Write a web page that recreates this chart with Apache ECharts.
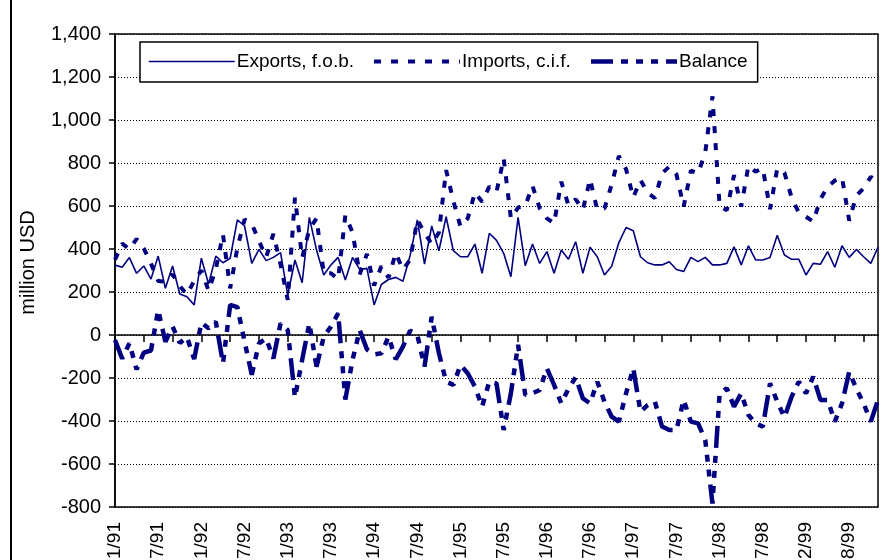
<!DOCTYPE html>
<html>
<head>
<meta charset="utf-8">
<script src="https://cdn.jsdelivr.net/npm/echarts@6/dist/echarts.min.js"></script>
<style>
  html, body { margin: 0; padding: 0; background: #fff; }
  #chart { width: 883px; height: 560px; }
</style>
</head>
<body>
<div id="chart"></div>
<script>
// Monthly trade figures, million USD (January 1999 is not reported)
const months = [
  '1/91','2/91','3/91','4/91','5/91','6/91','7/91','8/91','9/91','10/91','11/91','12/91',
  '1/92','2/92','3/92','4/92','5/92','6/92','7/92','8/92','9/92','10/92','11/92','12/92',
  '1/93','2/93','3/93','4/93','5/93','6/93','7/93','8/93','9/93','10/93','11/93','12/93',
  '1/94','2/94','3/94','4/94','5/94','6/94','7/94','8/94','9/94','10/94','11/94','12/94',
  '1/95','2/95','3/95','4/95','5/95','6/95','7/95','8/95','9/95','10/95','11/95','12/95',
  '1/96','2/96','3/96','4/96','5/96','6/96','7/96','8/96','9/96','10/96','11/96','12/96',
  '1/97','2/97','3/97','4/97','5/97','6/97','7/97','8/97','9/97','10/97','11/97','12/97',
  '1/98','2/98','3/98','4/98','5/98','6/98','7/98','8/98','9/98','10/98','11/98','12/98',
  '2/99','3/99','4/99','5/99','6/99','7/99','8/99','9/99','10/99','11/99','12/99'
];

const exportsFob = [
  325, 315, 360, 287, 321, 260, 367, 217, 321, 191, 178, 140,
  357, 237, 367, 336, 357, 535, 507, 333, 398, 346, 361, 383,
  186, 349, 243, 547, 395, 279, 326, 361, 256, 361, 305, 310,
  140, 235, 258, 268, 250, 370, 535, 330, 507, 392, 550, 392,
  364, 364, 423, 287, 473, 440, 380, 271, 547, 322, 423, 333,
  388, 287, 395, 352, 434, 287, 408, 364, 279, 320, 430, 500,
  485, 364, 336, 326, 326, 341, 305, 295, 361, 341, 361, 326,
  326, 333, 410, 326, 415, 349, 349, 360, 464, 372, 352, 352,
  279, 333, 329, 388, 315, 415, 361, 398, 364, 333, 408
];

const importsCif = [
  350, 425, 399, 447, 403, 332, 251, 248, 282, 228, 188, 252,
  300, 206, 305, 468, 217, 405, 537, 518, 437, 362, 470, 329,
  163, 639, 359, 493, 542, 287, 287, 260, 556, 477, 282, 377,
  230, 320, 266, 381, 304, 350, 535, 477, 422, 477, 767, 624,
  504, 542, 663, 620, 690, 665, 822, 542, 593, 601, 694, 589,
  543, 519, 713, 602, 631, 582, 726, 581, 589, 700, 833, 771,
  640, 721, 662, 636, 752, 783, 747, 597, 764, 752, 849, 1110,
  597, 581, 743, 597, 787, 760, 775, 585, 774, 755, 639, 569,
  550, 527, 631, 690, 718, 733, 532, 648, 682, 736, 710
];

const balance = [
  -23, -110, -39, -160, -82, -72, 116, -31, 39, -37, -10, -112,
  57, 31, 62, -132, 140, 130, -30, -185, -39, -16, -109, 54,
  23, -290, -116, 54, -147, -8, 39, 101, -300, -116, 23, -67,
  -90, -85, -8, -113, -54, 20, 0, -147, 85, -85, -217, -232,
  -140, -178, -240, -333, -217, -225, -442, -271, -46, -279, -271, -256,
  -155, -232, -318, -250, -197, -295, -318, -217, -310, -380, -403, -271,
  -155, -357, -326, -310, -426, -442, -442, -302, -403, -411, -488, -784,
  -271, -248, -333, -271, -372, -411, -426, -225, -310, -383, -287, -217,
  -271, -194, -302, -302, -403, -318, -171, -250, -318, -403, -302
];

const seriesNames = ['Exports, f.o.b.', 'Imports, c.i.f.', 'Balance'];
const yAxisTitle = 'million USD';

const NAVY = '#000080';
const FONT = "'Liberation Sans', Arial, sans-serif";

const chart = echarts.init(document.getElementById('chart'), null, { renderer: 'canvas' });

chart.setOption({
  animation: false,
  backgroundColor: '#ffffff',
  textStyle: { fontFamily: FONT, color: '#000' },
  grid: {
    left: 115, right: 5, top: 34, bottom: 53,
    outerBoundsMode: 'none',
    containLabel: false,
    show: true, borderColor: '#000', borderWidth: 1.5, backgroundColor: 'transparent'
  },
  legend: {
    left: 140, top: 42,
    padding: [10, 10, 11, 8],
    itemWidth: 86, itemHeight: 12, itemGap: 18,
    borderColor: '#000', borderWidth: 1.5, backgroundColor: '#fff',
    textStyle: { fontSize: 19, color: '#000', fontFamily: FONT, padding: [0, 0, 0, -3] },
    // line-only keys: hide the marker the line legend adds by default
    itemStyle: { opacity: 0 },
    lineStyle: { width: 'inherit' },
    data: seriesNames
  },
  xAxis: {
    type: 'category',
    data: months,
    boundaryGap: false,
    axisLine: { show: true, lineStyle: { color: '#000', width: 1.5 } },
    axisTick: { show: true, interval: 3, length: 7, lineStyle: { color: '#000', width: 1.5 } },
    axisLabel: { interval: 5, rotate: 90, margin: 15, fontSize: 19, color: '#000', fontFamily: FONT },
    splitLine: { show: false }
  },
  yAxis: {
    type: 'value',
    min: -800, max: 1400, interval: 200,
    name: yAxisTitle,
    nameLocation: 'middle',
    nameGap: 77,
    nameRotate: 90,
    nameTextStyle: { fontSize: 20, color: '#000', fontFamily: FONT, padding: [0, 0, 0, 16] },
    axisLine: { show: true, lineStyle: { color: '#000', width: 1.5 } },
    axisTick: { show: true, inside: false, length: 6, lineStyle: { color: '#000', width: 1.5 } },
    axisLabel: {
      fontSize: 20, color: '#000', margin: 14, fontFamily: FONT,
      formatter: v => v.toLocaleString('en-US')
    },
    splitLine: { show: true, lineStyle: { color: '#000', width: 1, type: [1, 2] } }
  },
  series: [
    {
      name: seriesNames[0], type: 'line', data: exportsFob,
      symbol: 'none', smooth: false,
      lineStyle: { color: NAVY, width: 1.6 },
      itemStyle: { color: NAVY }
    },
    {
      name: seriesNames[1], type: 'line', data: importsCif,
      symbol: 'none', smooth: false,
      lineStyle: { color: NAVY, width: 4, type: [7, 10], cap: 'butt' },
      itemStyle: { color: NAVY }
    },
    {
      name: seriesNames[2], type: 'line', data: balance,
      symbol: 'none', smooth: false,
      lineStyle: { color: NAVY, width: 4.5, type: [22, 8, 7, 8, 7, 8, 7, 8], cap: 'butt' },
      itemStyle: { color: NAVY }
    }
  ],
  graphic: [
    {
      type: 'line', silent: true,
      shape: { x1: 11, y1: 0, x2: 11, y2: 560 },
      style: { stroke: '#000', lineWidth: 2 }
    }
  ]
});
</script>
</body>
</html>
